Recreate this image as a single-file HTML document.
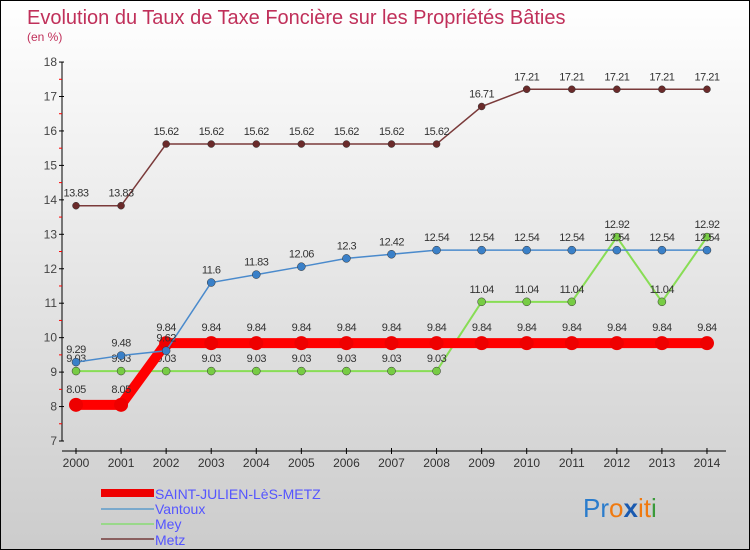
<!DOCTYPE html>
<html><head><meta charset="utf-8"><style>
body{margin:0}
#wrap{width:748px;height:548px;border:1px solid #000;background:linear-gradient(#fff,#ccc);position:relative;font-family:"Liberation Sans",sans-serif;overflow:hidden}
</style></head><body>
<div id="wrap">
<svg id="c" width="748" height="548">
<text x="26" y="23" font-size="20" fill="#c0305a">Evolution du Taux de Taxe Foncière sur les Propriétés Bâties</text>
<text x="26" y="40" font-size="12" fill="#c0305a">(en %)</text>
<g id="axes"></g><g id="series"></g>
<g>
<rect x="100" y="488" width="53" height="8" fill="#e00"/>
<text x="154" y="498" font-size="14" fill="#55f">SAINT-JULIEN-LèS-METZ</text>
<line x1="100" y1="508" x2="153" y2="508" stroke="#7aa9cc" stroke-width="2"/>
<text x="154" y="513" font-size="14" fill="#55f">Vantoux</text>
<line x1="100" y1="523" x2="153" y2="523" stroke="#99d88a" stroke-width="2"/>
<text x="154" y="528" font-size="14" fill="#55f">Mey</text>
<line x1="100" y1="538" x2="153" y2="538" stroke="#8a6060" stroke-width="2"/>
<text x="154" y="544" font-size="14" fill="#55f">Metz</text>
</g>
<text x="582" y="516" font-size="26" font-family="Liberation Sans"><tspan fill="#2a7ccc">Pr</tspan><tspan fill="#f07a10">o</tspan><tspan fill="#1a5ab0" font-weight="bold">x</tspan><tspan fill="#f07a10">it</tspan><tspan fill="#3a9a3a">i</tspan></text>
</svg>
</div>
<script>
const years=[2000,2001,2002,2003,2004,2005,2006,2007,2008,2009,2010,2011,2012,2013,2014];
const yTicks=[7,8,9,10,11,12,13,14,15,16,17,18];
const stJulien=[8.05,8.05,9.84,9.84,9.84,9.84,9.84,9.84,9.84,9.84,9.84,9.84,9.84,9.84,9.84];
const vantoux=[9.29,9.48,9.62,11.6,11.83,12.06,12.3,12.42,12.54,12.54,12.54,12.54,12.54,12.54,12.54];
const mey=[9.03,9.03,9.03,9.03,9.03,9.03,9.03,9.03,9.03,11.04,11.04,11.04,12.92,11.04,12.92];
const metz=[13.83,13.83,15.62,15.62,15.62,15.62,15.62,15.62,15.62,16.71,17.21,17.21,17.21,17.21,17.21];
const NS="http://www.w3.org/2000/svg";
const X=i=>75+i*45.07, Y=v=>440-(v-7)*34.45;
function mk(t,a,p){const e=document.createElementNS(NS,t);for(const k in a)e.setAttribute(k,a[k]);p.appendChild(e);return e;}
const ax=document.getElementById('axes'),se=document.getElementById('series');
let l=mk('line',{x1:61,y1:Y(18),x2:61,y2:440,stroke:'#000'},ax);


l=mk('line',{x1:61,y1:450,x2:725,y2:450,stroke:'#000'},ax);


yTicks.forEach(v=>{mk('line',{x1:58,x2:63,y1:Y(v),y2:Y(v),stroke:'#000'},ax);
if(v<18)mk('line',{x1:58,x2:61,y1:Y(v+.5),y2:Y(v+.5),stroke:'#f00'},ax);
const t=mk('text',{x:56,y:Y(v)+4,'text-anchor':'end','font-size':12,fill:'#444'},ax);t.textContent=v;

});
years.forEach((y,i)=>{mk('line',{x1:X(i),x2:X(i),y1:447,y2:453,stroke:'#000'},ax);
const t=mk('text',{x:X(i),y:466,'text-anchor':'middle','font-size':12,fill:'#333'},ax);t.textContent=y;

});
function draw(name,d,col,w,r,dot,lblDy){
const g=mk('g',{},se);


const p=mk('polyline',{points:d.map((v,i)=>X(i)+','+Y(v)).join(' '),fill:'none',stroke:col,'stroke-width':w},g);


d.forEach((v,i)=>{const c=mk('circle',{cx:X(i),cy:Y(v),r:r,fill:dot,stroke:'#333','stroke-width':r>4?0:.5},g);


const t=mk('text',{x:X(i),y:Y(v)+lblDy,'text-anchor':'middle','font-size':11,fill:'#333','letter-spacing':'-0.5'},g);t.textContent=v;

});}
draw('mey',mey,'#88dd55',2,4,'#77cc44',-9);
draw('metz',metz,'#7a3a3a',1.5,3.5,'#6a2a2a',-9);
draw('saint-julien',stJulien,'#f00',10,7,'#e00',-12);
draw('vantoux',vantoux,'#4a8acc',1.5,4,'#3a80c8',-9);
</script>
</body></html>
